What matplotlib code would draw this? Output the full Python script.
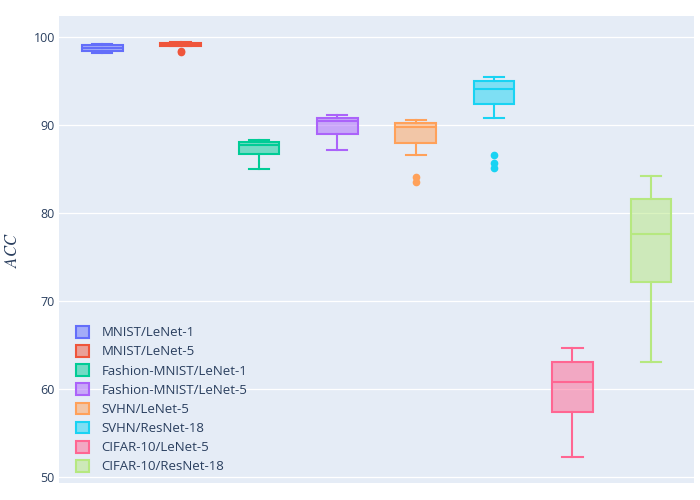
import matplotlib
matplotlib.use("Agg")
import matplotlib.pyplot as plt
from matplotlib.patches import Patch

# summary stats (accuracy, %)
labels = ["MNIST/LeNet-1", "MNIST/LeNet-5", "Fashion-MNIST/LeNet-1",
          "Fashion-MNIST/LeNet-5", "SVHN/LeNet-5", "SVHN/ResNet-18",
          "CIFAR-10/LeNet-5", "CIFAR-10/ResNet-18"]
q1 = [98.45, 98.95, 86.67, 88.94, 87.92, 92.35, 57.35, 72.12]
med = [98.80, 99.15, 87.73, 90.49, 89.74, 94.09, 60.83, 77.58]
q3 = [99.05, 99.35, 88.10, 90.80, 90.19, 95.03, 63.10, 81.59]
whislo = [98.15, 98.95, 85.03, 87.16, 86.63, 90.76, 52.31, 63.10]
whishi = [99.20, 99.40, 88.30, 91.17, 90.57, 95.49, 64.62, 84.24]
fliers = [[], [98.45, 98.30], [], [], [84.15, 83.50], [86.56, 85.72, 85.15], [], []]

colors = ["#636EFA", "#EF553B", "#00CC96", "#AB63FA",
          "#FFA15A", "#19D3F3", "#FF6692", "#B6E880"]

txt = "#2a3f5f"
fig = plt.figure(figsize=(7, 5), dpi=100)
ax = fig.add_axes([59 / 700, 17 / 500, 635 / 700, 467 / 500])
ax.set_facecolor("#E5ECF6")

for i in range(len(labels)):
    st = dict(label=labels[i], q1=q1[i], med=med[i], q3=q3[i],
              whislo=whislo[i], whishi=whishi[i], fliers=fliers[i])
    c = colors[i]
    ax.bxp([st], positions=[i], widths=0.52, capwidths=0.26, patch_artist=True,
           showfliers=True,
           boxprops=dict(facecolor=matplotlib.colors.to_rgba(c, 0.5), edgecolor=c, linewidth=1.5),
           medianprops=dict(color=c, linewidth=1.5),
           whiskerprops=dict(color=c, linewidth=1.5),
           capprops=dict(color=c, linewidth=1.5),
           flierprops=dict(marker="o", markerfacecolor=c, markeredgecolor=c,
                           markersize=4.5, linestyle="none"))

ax.set_xlim(-0.55, 7.55)
ax.set_ylim(49.32, 102.39)
ax.set_yticks([50, 60, 70, 80, 90, 100])
ax.set_xticks([])
ax.grid(axis="y", color="white", linewidth=0.9)
ax.set_axisbelow(True)
for s in ax.spines.values():
    s.set_visible(False)
ax.tick_params(axis="y", length=0, pad=3, labelsize=9, labelcolor=txt)
for t in ax.get_yticklabels():
    t.set_fontfamily("Open Sans")

plt.rcParams["mathtext.fontset"] = "stix"
fig.text(12 / 700, 1 - 250 / 500, r"$ACC$", rotation=90, ha="center", va="center",
         fontsize=12, color=txt)

handles = [Patch(facecolor=matplotlib.colors.to_rgba(c, 0.5), edgecolor=c, linewidth=1.5)
           for c in colors]
leg = fig.legend(handles, labels, loc="upper left",
                 bbox_to_anchor=(76 / 700, 1 - 326 / 500), bbox_transform=fig.transFigure,
                 frameon=False, handlelength=0.98, handleheight=0.98, handletextpad=0.95,
                 labelspacing=0.44, borderpad=0, borderaxespad=0,
                 prop=dict(family="Open Sans", size=9.5))
for t in leg.get_texts():
    t.set_color(txt)

fig.savefig("out.png", dpi=100)
